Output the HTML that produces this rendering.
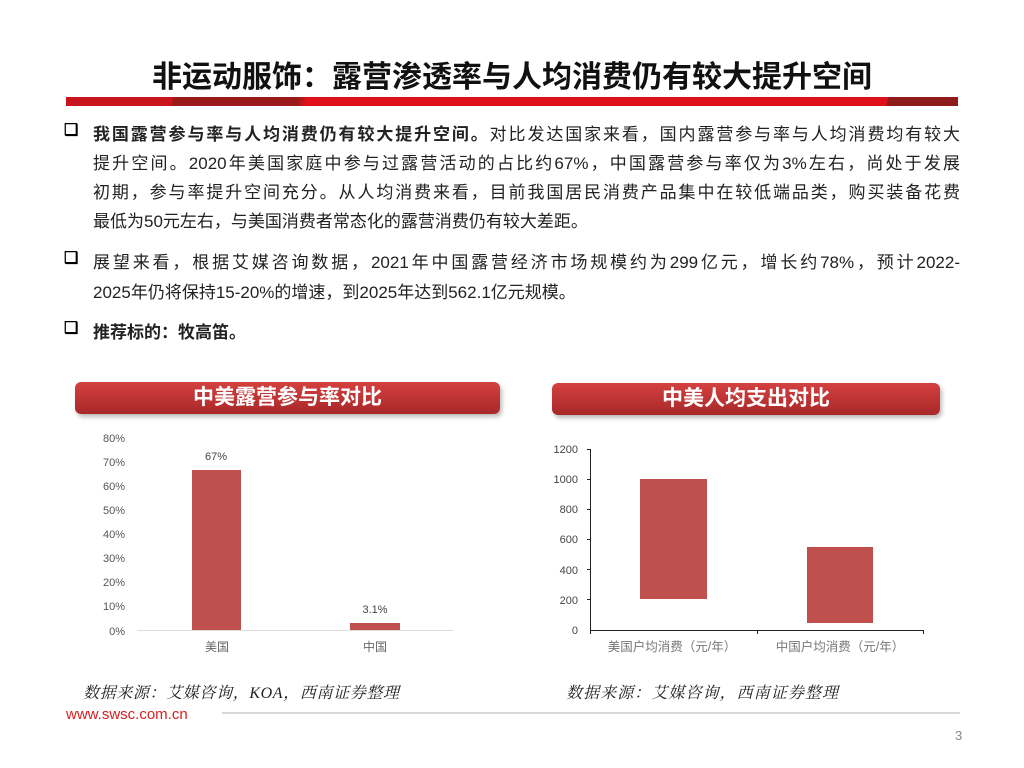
<!DOCTYPE html>
<html><head><meta charset="utf-8"><style>
body{margin:0;width:1024px;height:768px;background:#fff;position:relative;overflow:hidden;font-family:"Liberation Sans","Noto Sans CJK SC",sans-serif;}
.a{position:absolute;white-space:nowrap}
.t{font-size:17px;color:#222;left:93px;width:867px;text-align:justify;text-align-last:justify}
.b{font-size:16px;font-weight:bold;left:64px}
.hd{position:absolute;height:32px;border-radius:6px;background:linear-gradient(#d44040,#a82828);color:#fff;font-weight:bold;font-size:21px;text-align:center;line-height:32px;box-shadow:2px 3px 4px #bbb}
</style></head><body>
<div class="a" style="left:0;width:1024px;top:52px;text-align:center;font-size:30px;font-weight:bold;color:#111">非运动服饰：露营渗透率与人均消费仍有较大提升空间</div>
<div class="a" style="left:66px;top:97px;width:892px;height:9px;background:linear-gradient(100deg,#c8141c 0 12%,#9a1a1a 12% 26%,#e0101a 27% 92%,#8f1a1a 92%)"></div>
<div class="a b" style="top:120px">❑</div>
<div class="a t" style="top:120px"><b>我国露营参与率与人均消费仍有较大提升空间。</b>对比发达国家来看，国内露营参与率与人均消费均有较大</div>
<div class="a t" style="top:149px">提升空间。2020年美国家庭中参与过露营活动的占比约67%，中国露营参与率仅为3%左右，尚处于发展</div>
<div class="a t" style="top:178px">初期，参与率提升空间充分。从人均消费来看，目前我国居民消费产品集中在较低端品类，购买装备花费</div>
<div class="a" style="top:207px;left:93px;font-size:17px;color:#222">最低为50元左右，与美国消费者常态化的露营消费仍有较大差距。</div>
<div class="a b" style="top:248px">❑</div>
<div class="a t" style="top:248px">展望来看，根据艾媒咨询数据，2021年中国露营经济市场规模约为299亿元，增长约78%，预计2022-</div>
<div class="a" style="top:278px;left:93px;font-size:17px;color:#222">2025年仍将保持15-20%的增速，到2025年达到562.1亿元规模。</div>
<div class="a b" style="top:318px">❑</div>
<div class="a" style="top:318px;left:93px;font-size:17px;font-weight:bold;color:#222">推荐标的：牧高笛。</div>

<div class="hd" style="left:75px;top:382px;width:425px">中美露营参与率对比</div>
<div class="hd" style="left:552px;top:383px;width:388px">中美人均支出对比</div>

<svg class="a" style="left:0;top:0" width="1024" height="768">
<g font-family="Liberation Sans,Noto Sans CJK SC,sans-serif" font-size="11" fill="#555" text-anchor="end">
<text x="125" y="442">80%</text><text x="125" y="466">70%</text><text x="125" y="490">60%</text><text x="125" y="514">50%</text><text x="125" y="538">40%</text><text x="125" y="562">30%</text><text x="125" y="586">20%</text><text x="125" y="610">10%</text><text x="125" y="635">0%</text>
</g>
<line x1="137" y1="630.5" x2="453" y2="630.5" stroke="#ddd"/>
<rect x="192" y="470" width="49" height="160" fill="#c0504d"/>
<rect x="350" y="623" width="50" height="7" fill="#c0504d"/>
<g font-family="Liberation Sans,Noto Sans CJK SC,sans-serif" font-size="11" fill="#444" text-anchor="middle">
<text x="216" y="460">67%</text><text x="375" y="613">3.1%</text>
<text x="217" y="651" fill="#666" font-size="12">美国</text><text x="375" y="651" fill="#666" font-size="12">中国</text>
</g>
<g font-family="Liberation Sans,Noto Sans CJK SC,sans-serif" font-size="11" fill="#444" text-anchor="end">
<text x="578" y="453">1200</text><text x="578" y="483">1000</text><text x="578" y="513">800</text><text x="578" y="543">600</text><text x="578" y="574">400</text><text x="578" y="604">200</text><text x="578" y="634">0</text>
</g>
<g stroke="#222" stroke-width="1">
<line x1="590.5" y1="449" x2="590.5" y2="634"/><line x1="590" y1="630.5" x2="924" y2="630.5"/>
<line x1="587" y1="449.5" x2="590" y2="449.5"/><line x1="587" y1="479.5" x2="590" y2="479.5"/><line x1="587" y1="509.5" x2="590" y2="509.5"/><line x1="587" y1="539.5" x2="590" y2="539.5"/><line x1="587" y1="569.5" x2="590" y2="569.5"/><line x1="587" y1="599.5" x2="590" y2="599.5"/>
<line x1="757.5" y1="630" x2="757.5" y2="634"/><line x1="923.5" y1="630" x2="923.5" y2="634"/>
</g>
<rect x="640" y="479" width="67" height="120" fill="#c0504d"/>
<rect x="807" y="547" width="66" height="76" fill="#c0504d"/>
<g font-family="Liberation Sans,Noto Sans CJK SC,sans-serif" font-size="12.5" fill="#777" text-anchor="middle">
<text x="672" y="651">美国户均消费（元/年）</text><text x="840" y="651">中国户均消费（元/年）</text>
</g>
<g font-family="Liberation Serif,Noto Serif CJK SC,serif" font-size="16" font-style="italic" fill="#222">
<text x="83" y="698" textLength="316" lengthAdjust="spacing">数据来源：艾媒咨询，KOA，西南证券整理</text>
<text x="566" y="698" textLength="272" lengthAdjust="spacing">数据来源：艾媒咨询，西南证券整理</text>
</g>
<text x="66" y="719" font-family="Liberation Sans,sans-serif" font-size="15" fill="#d81e1e">www.swsc.com.cn</text>
<line x1="222" y1="713" x2="960" y2="713" stroke="#ccc" stroke-width="1.5"/>
<text x="955" y="740" font-family="Liberation Sans,sans-serif" font-size="13" fill="#888">3</text>
</svg>
</body></html>
